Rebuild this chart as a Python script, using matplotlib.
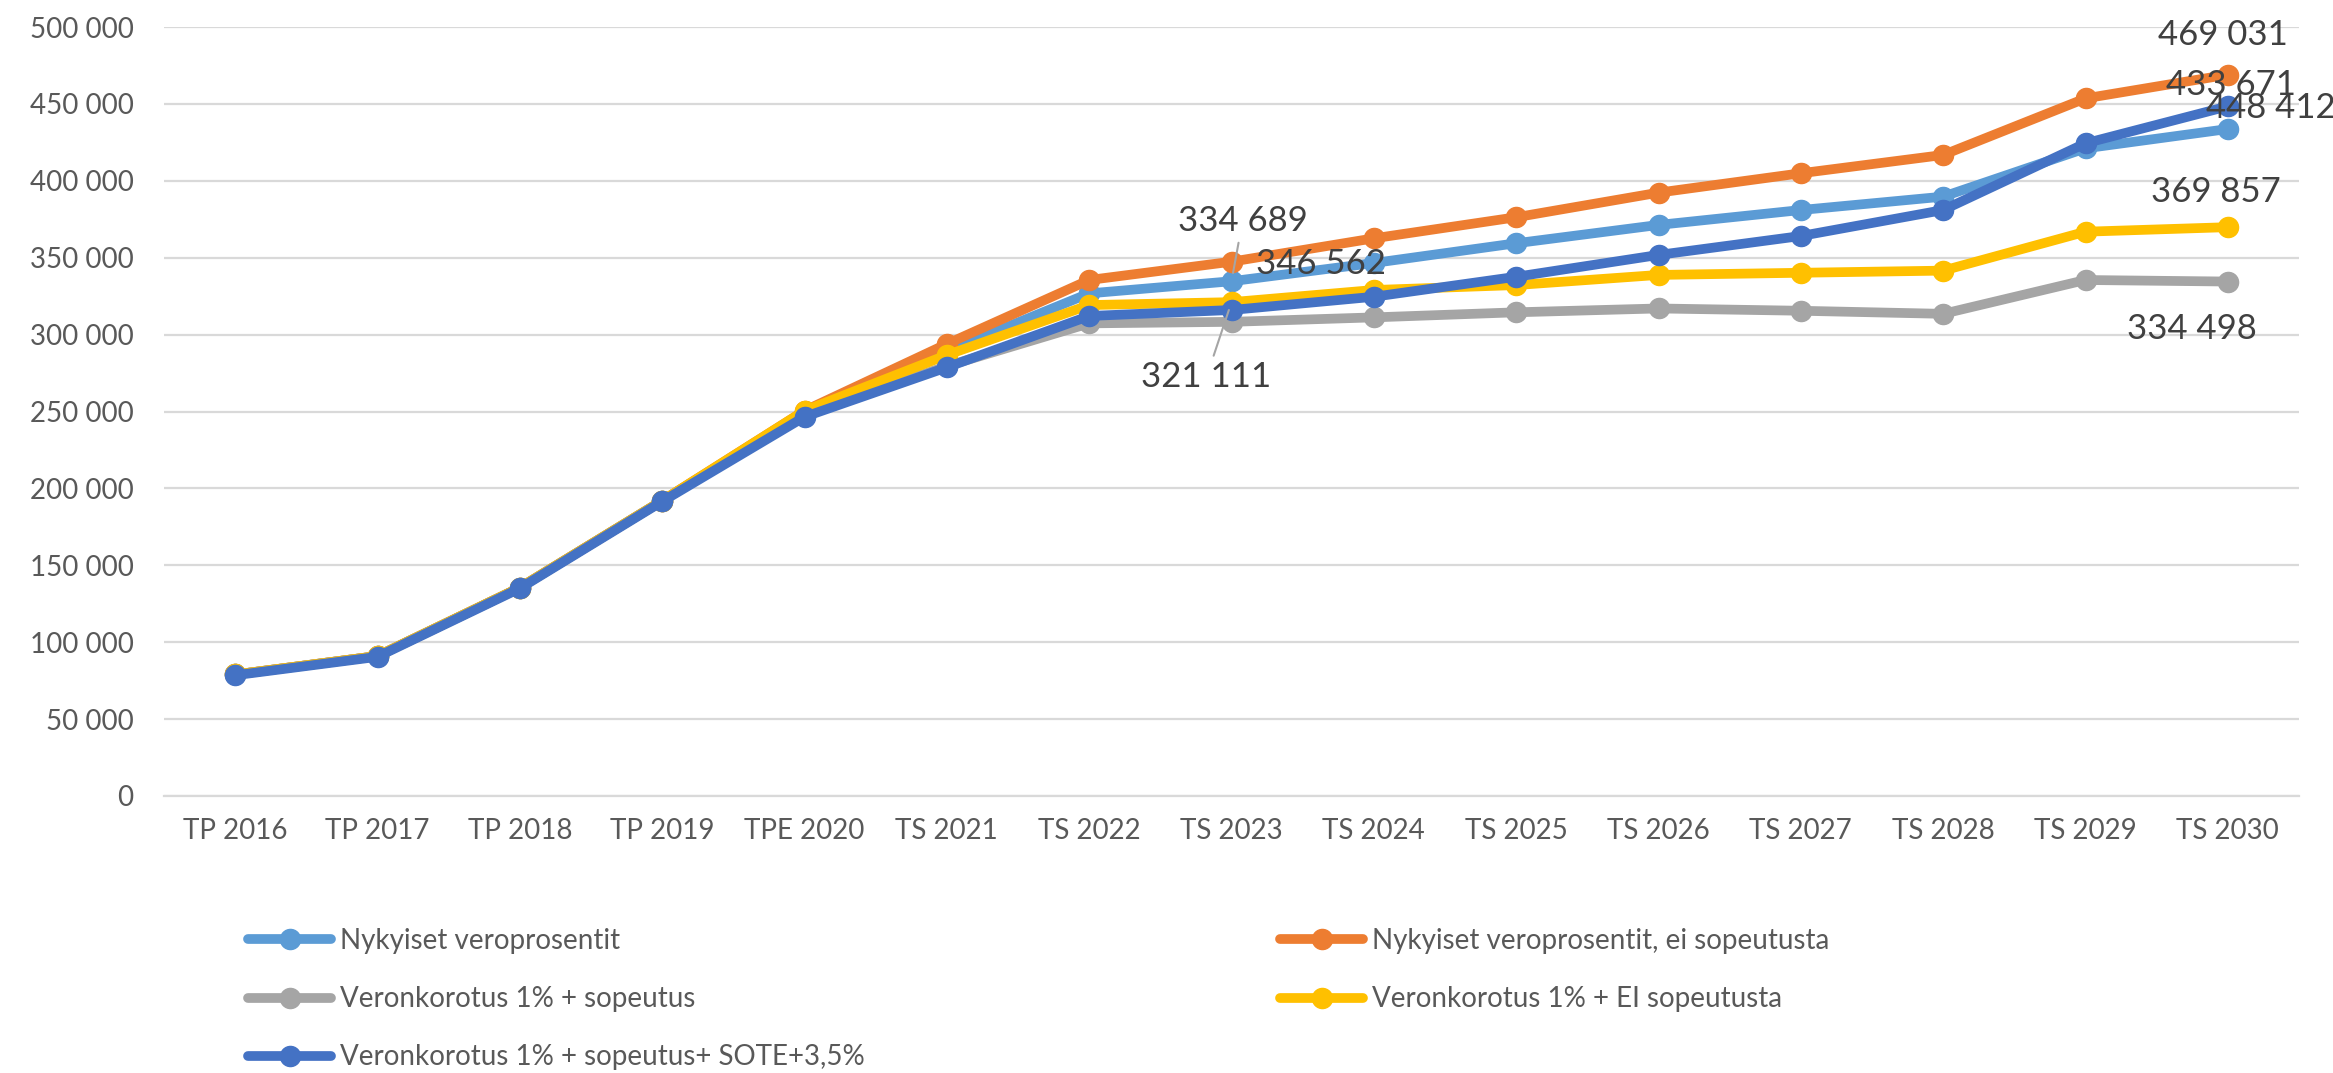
import matplotlib
matplotlib.use("Agg")
import matplotlib.pyplot as plt
from matplotlib.ticker import FuncFormatter, MultipleLocator

plt.rcParams['font.family'] = ['Lato', 'DejaVu Sans']

categories = ["TP 2016", "TP 2017", "TP 2018", "TP 2019", "TPE 2020", "TS 2021", "TS 2022",
              "TS 2023", "TS 2024", "TS 2025", "TS 2026", "TS 2027", "TS 2028", "TS 2029", "TS 2030"]

nykyiset = [79000, 91000, 135500, 192000, 249000, 289000, 326800, 334689, 346562,
            359400, 371300, 381000, 389700, 421100, 433671]
nykyiset_ei = [79000, 91000, 135500, 192000, 250500, 293900, 335500, 347400, 362600,
               376300, 392300, 404900, 416800, 453600, 469031]
korotus_sop = [79000, 91000, 135500, 192000, 248000, 279500, 307300, 308300, 311200,
               314500, 317000, 315500, 313500, 335500, 334498]
korotus_ei = [79000, 91000, 135500, 192000, 250500, 286700, 319200, 321111, 329000,
              332200, 338800, 340200, 341600, 366900, 369857]
korotus_sote = [78500, 90500, 135000, 191500, 246500, 278700, 312100, 316000, 324600,
                337600, 351800, 364100, 381000, 424400, 448412]

names = ["Nykyiset veroprosentit", "Nykyiset veroprosentit, ei sopeutusta",
         "Veronkorotus 1% + sopeutus", "Veronkorotus 1% + EI sopeutusta",
         "Veronkorotus 1% + sopeutus+ SOTE+3,5%"]
colors = ["#5B9BD5", "#ED7D31", "#A5A5A5", "#FFC000", "#4472C4"]
series = [nykyiset, nykyiset_ei, korotus_sop, korotus_ei, korotus_sote]

fig = plt.figure(figsize=(23.33, 10.73), dpi=100)
ax = fig.add_axes([164/2333, 1-796/1073, (2299-164)/2333, (796-27)/1073])

x = list(range(len(categories)))
handles = []
for name, col, vals in zip(names, colors, series):
    h, = ax.plot(x, vals, color=col, lw=7, marker='o', ms=14.5, label=name,
                 solid_capstyle='round', solid_joinstyle='round')
    handles.append(h)

ax.set_xlim(-0.5, len(categories) - 0.5)
ax.set_ylim(0, 500000)
ax.yaxis.set_major_locator(MultipleLocator(50000))
ax.yaxis.set_major_formatter(FuncFormatter(lambda v, p: f"{int(v):,}".replace(",", " ")))
ax.set_xticks(x)
ax.set_xticklabels(categories)
ax.tick_params(axis='both', length=0, labelsize=20, colors='#595959')
ax.tick_params(axis='y', pad=22)
ax.tick_params(axis='x', pad=16)
ax.grid(axis='y', color='#D9D9D9', lw=1.6)
ax.set_axisbelow(True)
for s in ['top', 'right', 'left']:
    ax.spines[s].set_visible(False)
ax.spines['bottom'].set_color('#D9D9D9')
ax.spines['bottom'].set_linewidth(1.6)

def fmt(v):
    return f"{v:,}".replace(",", " ")

lab_kw = dict(textcoords='offset pixels', ha='center', va='center', fontsize=25, color='#404040')
lead = dict(arrowstyle='-', color='#A5A5A5', lw=1.5, shrinkA=2, shrinkB=6)
last = len(categories) - 1
ax.annotate(fmt(nykyiset_ei[last]), (last, nykyiset_ei[last]), xytext=(-5, 40), **lab_kw)
ax.annotate(fmt(nykyiset[last]), (last, nykyiset[last]), xytext=(3, 44), **lab_kw)
ax.annotate(fmt(korotus_sote[last]), (last, korotus_sote[last]), xytext=(43, -2), **lab_kw)
ax.annotate(fmt(korotus_ei[last]), (last, korotus_ei[last]), xytext=(-12, 35), **lab_kw)
ax.annotate(fmt(korotus_sop[last]), (last, korotus_sop[last]), xytext=(-36, -47), **lab_kw)
ax.annotate(fmt(nykyiset[7]), (7, nykyiset[7]), xytext=(11, 60), arrowprops=lead, **lab_kw)
ax.annotate(fmt(nykyiset[8]), (8, nykyiset[8]), xytext=(-53, -1), **lab_kw)
ax.annotate(fmt(korotus_ei[7]), (7, korotus_ei[7]), xytext=(-25, -75), arrowprops=lead, **lab_kw)

leg_kw = dict(loc='upper left', frameon=False, fontsize=20, labelcolor='#595959',
              handlelength=3.0, handletextpad=0.3, labelspacing=1.16, borderpad=0, borderaxespad=0)
leg1 = fig.legend([handles[0], handles[2], handles[4]], [names[0], names[2], names[4]],
                  bbox_to_anchor=(248/2333, 1-928/1073), **leg_kw)
leg2 = fig.legend([handles[1], handles[3]], [names[1], names[3]],
                  bbox_to_anchor=(1280/2333, 1-928/1073), **leg_kw)

fig.savefig("out.png", dpi=100)
